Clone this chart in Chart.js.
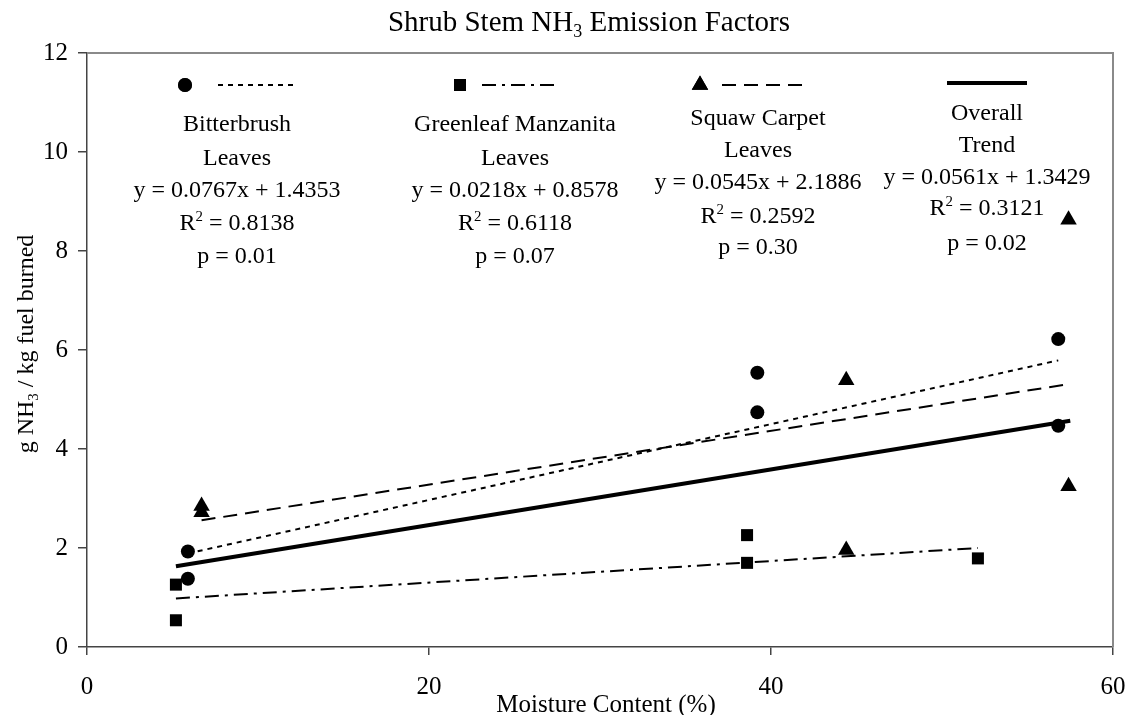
<!DOCTYPE html>
<html>
<head>
<meta charset="utf-8">
<script src="https://cdn.jsdelivr.net/npm/chart.js@4.4.1/dist/chart.umd.min.js"></script>
<style>
  body { margin: 0; background: #fff; }
  #wrap { width: 1128px; height: 715px; position: relative; }
</style>
</head>
<body>
<div id="wrap"><canvas id="grafica"></canvas></div>
<script>
// puntos medidos
const bbX = [5.9, 5.9, 39.2, 39.2, 56.8, 56.8];
const bbY = [1.93, 1.38, 5.54, 4.74, 6.22, 4.47];
const gmX = [5.2, 5.2, 38.6, 38.6, 52.1];
const gmY = [1.26, 0.54, 2.26, 1.70, 1.79];
const scX = [6.7, 6.7, 44.4, 44.4, 57.4, 57.4];
const scY = [2.85, 2.72, 5.39, 1.96, 8.63, 3.25];

// lineas de tendencia (extremos)
const bbTrendX = [5.9, 56.8];
const bbTrendY = [1.89, 5.79];
const gmTrendX = [5.2, 52.1];
const gmTrendY = [0.98, 2.0];
const scTrendX = [6.7, 57.4];
const scTrendY = [2.56, 5.31];
const allTrendX = [5.2, 57.5];
const allTrendY = [1.63, 4.57];

// textos de la leyenda
const nombres = [["Bitterbrush", "Leaves"], ["Greenleaf Manzanita", "Leaves"], ["Squaw Carpet", "Leaves"], ["Overall", "Trend"]];
const ecuaciones = ["y = 0.0767x + 1.4353", "y = 0.0218x + 0.8578", "y = 0.0545x + 2.1886", "y = 0.0561x + 1.3429"];
const r2 = ["0.8138", "0.6118", "0.2592", "0.3121"];
const pvals = ["0.01", "0.07", "0.30", "0.02"];

const xTicks = [0, 20, 40, 60];
const yTicks = [0, 2, 4, 6, 8, 10, 12];

const serif = '"Liberation Serif", "Times New Roman", serif';

function pares(xs, ys) {
    return xs.map((x, i) => ({x: x, y: ys[i]}));
}

const estilos = [
    {pointStyle: 'circle', radius: 7, dash: [5, 5], width: 2},
    {pointStyle: 'rect', radius: 8.5, dash: [14, 6, 3, 6], width: 2},
    {pointStyle: 'triangle', radius: 9.5, dash: [14, 8], width: 2},
    {pointStyle: false, radius: 0, dash: [], width: 4}
];

function lineaTendencia(xs, ys, est) {
    return {
        type: 'line',
        data: pares(xs, ys),
        borderColor: '#000',
        borderWidth: est.width,
        borderDash: est.dash,
        pointRadius: 0,
        fill: false,
        tension: 0
    };
}

function puntos(xs, ys, est) {
    return {
        type: 'scatter',
        data: pares(xs, ys),
        pointStyle: est.pointStyle,
        pointRadius: est.radius,
        pointBackgroundColor: '#000',
        pointBorderColor: '#000',
        pointBorderWidth: 0,
        showLine: false
    };
}

// texto con subindice / superindice
function textoPartes(ctx, partes, cx, cy, size) {
    let total = 0;
    partes.forEach(p => {
        ctx.font = (p.s ? size * 0.62 : size) + 'px ' + serif;
        p.w = ctx.measureText(p.t).width;
        total += p.w;
    });
    let x = cx - total / 2;
    ctx.textAlign = 'left';
    ctx.textBaseline = 'alphabetic';
    partes.forEach(p => {
        ctx.font = (p.s ? size * 0.62 : size) + 'px ' + serif;
        let dy = 0;
        if (p.s === 'sub') dy = size * 0.22;
        if (p.s === 'sup') dy = -size * 0.38;
        ctx.fillText(p.t, x, cy + dy);
        x += p.w;
    });
}

const extras = {
    id: 'extras',
    afterDraw(chart) {
        const ctx = chart.ctx;
        const a = chart.chartArea;
        ctx.save();
        // marco gris arriba y derecha
        ctx.strokeStyle = '#8a8a8a';
        ctx.lineWidth = 2;
        ctx.beginPath();
        ctx.moveTo(a.left, a.top);
        ctx.lineTo(a.right, a.top);
        ctx.lineTo(a.right, a.bottom);
        ctx.stroke();

        ctx.fillStyle = '#000';
        // titulo
        textoPartes(ctx, [{t: 'Shrub Stem NH'}, {t: '3', s: 'sub'}, {t: ' Emission Factors'}], 589, 31, 29);
        // titulo eje x
        textoPartes(ctx, [{t: 'Moisture Content (%)'}], 606, 712, 25);
        // titulo eje y
        ctx.save();
        ctx.translate(33, 344);
        ctx.rotate(-Math.PI / 2);
        textoPartes(ctx, [{t: 'g NH'}, {t: '3', s: 'sub'}, {t: ' / kg fuel burned'}], 0, 0, 24);
        ctx.restore();

        // leyenda con ecuaciones
        const cols = [
            {mx: 185, lx0: 218, lx1: 296, tx: 237, ys: [123, 157, 189, 222, 255]},
            {mx: 460, lx0: 482, lx1: 558, tx: 515, ys: [123, 157, 189, 222, 255]},
            {mx: 700, lx0: 722, lx1: 803, tx: 758, ys: [117, 149, 181, 215, 246]},
            {mx: null, lx0: 947, lx1: 1027, tx: 987, ys: [112, 144, 176, 207, 242]}
        ];
        cols.forEach((c, i) => {
            const est = estilos[i];
            const my = i === 3 ? 83 : 85;
            if (est.pointStyle) {
                ctx.fillStyle = '#000';
                Chart.helpers.drawPoint(ctx, {pointStyle: est.pointStyle, radius: est.radius, rotation: 0, borderWidth: 0}, c.mx, my);
                ctx.fill();
            }
            ctx.strokeStyle = '#000';
            ctx.lineWidth = est.width;
            ctx.setLineDash(est.dash);
            ctx.beginPath();
            ctx.moveTo(c.lx0, my);
            ctx.lineTo(c.lx1, my);
            ctx.stroke();
            ctx.setLineDash([]);

            ctx.fillStyle = '#000';
            const sz = 24;
            const off = 8;
            textoPartes(ctx, [{t: nombres[i][0]}], c.tx, c.ys[0] + off, sz);
            textoPartes(ctx, [{t: nombres[i][1]}], c.tx, c.ys[1] + off, sz);
            textoPartes(ctx, [{t: ecuaciones[i]}], c.tx, c.ys[2] + off, sz);
            textoPartes(ctx, [{t: 'R'}, {t: '2', s: 'sup'}, {t: ' = ' + r2[i]}], c.tx, c.ys[3] + off, sz);
            textoPartes(ctx, [{t: 'p = ' + pvals[i]}], c.tx, c.ys[4] + off, sz);
        });
        ctx.restore();
    }
};

const grafica = document.querySelector('#grafica');
const myChart = new Chart(grafica, {
    type: 'scatter',
    data: {
        datasets: [
            lineaTendencia(allTrendX, allTrendY, estilos[3]),
            lineaTendencia(bbTrendX, bbTrendY, estilos[0]),
            lineaTendencia(gmTrendX, gmTrendY, estilos[1]),
            lineaTendencia(scTrendX, scTrendY, estilos[2]),
            puntos(bbX, bbY, estilos[0]),
            puntos(gmX, gmY, estilos[1]),
            puntos(scX, scY, estilos[2])
        ]
    },
    options: {
        responsive: true,
        maintainAspectRatio: false,
        animation: false,
        layout: {padding: {top: 53, right: 15, left: 0, bottom: 0}},
        plugins: {
            legend: {display: false},
            tooltip: {enabled: false},
            title: {display: false}
        },
        scales: {
            x: {
                type: 'linear',
                min: 0,
                max: 60,
                afterBuildTicks: s => { s.ticks = xTicks.map(v => ({value: v})); },
                afterFit: s => { s.height = 68; s.paddingRight = 0; s.paddingLeft = 0; },
                grid: {drawOnChartArea: false, drawTicks: true, tickLength: 8, color: '#444', lineWidth: 1.5},
                border: {display: true, color: '#444', width: 1.5},
                ticks: {color: '#000', font: {family: serif, size: 25}, padding: 17, maxRotation: 0}
            },
            y: {
                type: 'linear',
                min: 0,
                max: 12,
                afterBuildTicks: s => { s.ticks = yTicks.map(v => ({value: v})); },
                afterFit: s => { s.width = 87; s.paddingTop = 0; s.paddingBottom = 0; },
                grid: {drawOnChartArea: false, drawTicks: true, tickLength: 9, color: '#444', lineWidth: 1.5},
                border: {display: true, color: '#444', width: 1.5},
                ticks: {color: '#000', font: {family: serif, size: 25}, padding: 10}
            }
        }
    },
    plugins: [extras]
});
</script>
</body>
</html>
